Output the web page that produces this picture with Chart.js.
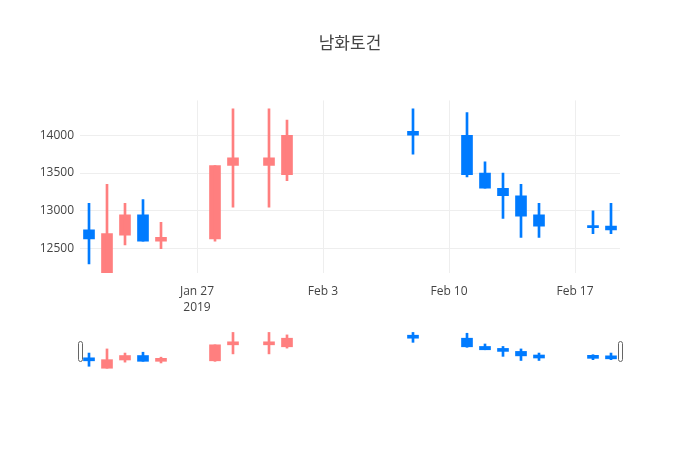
<!DOCTYPE html>
<html>
<head>
<meta charset="utf-8">
<script src="https://cdn.jsdelivr.net/npm/chart.js@4.4.0/dist/chart.umd.min.js"></script>
<style>
  body { margin: 0; background: #fff; }
  #wrap { position: relative; width: 700px; height: 450px; }
  #main { position: absolute; left: 0; top: 0; }
  #slider { position: absolute; left: 0; top: 320px; }
</style>
</head>
<body>
<div id="wrap">
  <canvas id="main" width="700" height="320"></canvas>
  <canvas id="slider" width="700" height="60"></canvas>
</div>
<script>
const dates = ['2019-01-21', '2019-01-22', '2019-01-23', '2019-01-24', '2019-01-25',
  '2019-01-28', '2019-01-29', '2019-01-31', '2019-02-01', '2019-02-08',
  '2019-02-11', '2019-02-12', '2019-02-13', '2019-02-14', '2019-02-15',
  '2019-02-18', '2019-02-19'];
const openPrices = [12750, 12180, 12680, 12950, 12600, 12630, 13600, 13600, 13480, 14050,
  14000, 13500, 13300, 13200, 12950, 12800, 12800];
const highPrices = [13100, 13350, 13100, 13150, 12850, 13600, 14350, 14350, 14200, 14350,
  14300, 13650, 13500, 13350, 13100, 13000, 13100];
const lowPrices = [12300, 12180, 12550, 12600, 12500, 12600, 13050, 13050, 13400, 13750,
  13450, 13300, 12900, 12650, 12650, 12700, 12700];
const closePrices = [12630, 12700, 12950, 12600, 12650, 13600, 13700, 13700, 14000, 14000,
  13480, 13300, 13200, 12930, 12800, 12780, 12750];

const tickDates = ['2019-01-27', '2019-02-03', '2019-02-10', '2019-02-17'];
const tickLabels = [['Jan 27', '2019'], 'Feb 3', 'Feb 10', 'Feb 17'];
const priceTicks = [12500, 13000, 13500, 14000];

const UP = '#ff7f7f';
const DOWN = '#007bff';
const FONT = "'Open Sans', 'Noto Sans CJK KR', sans-serif";

// days counted from Jan 27
const baseDay = Date.parse('2019-01-27');
function dayOf(d) { return (Date.parse(d) - baseDay) / 86400000; }

const xs = dates.map(dayOf);
const tickDays = tickDates.map(dayOf);
const colors = dates.map((d, i) => closePrices[i] >= openPrices[i] ? UP : DOWN);
const xMin = xs[0] - 0.5, xMax = xs[xs.length - 1] + 0.5;

function candleSets(minLen) {
  return [
    {
      data: xs.map((x, i) => ({ x: x, y: [lowPrices[i], highPrices[i]] })),
      backgroundColor: colors,
      barThickness: 2,
      grouped: false
    },
    {
      data: xs.map((x, i) => ({ x: x, y: [openPrices[i], closePrices[i]] })),
      backgroundColor: colors,
      barThickness: 11,
      minBarLength: minLen,
      grouped: false
    }
  ];
}

new Chart(document.getElementById('main'), {
  type: 'bar',
  data: { datasets: candleSets(2) },
  options: {
    responsive: false,
    animation: false,
    layout: { padding: 0 },
    plugins: {
      legend: { display: false },
      tooltip: { enabled: false },
      title: {
        display: true,
        text: '남화토건',
        color: '#444',
        font: { family: FONT, size: 17, weight: 'normal' },
        padding: { top: 34, bottom: 46 }
      }
    },
    scales: {
      x: {
        type: 'linear',
        min: xMin,
        max: xMax,
        offset: false,
        border: { display: false },
        grid: { color: '#eee', drawTicks: false, offset: false },
        afterBuildTicks: s => { s.ticks = tickDays.map(v => ({ value: v })); },
        afterFit: s => { s.height = 47; },
        ticks: {
          padding: 11,
          color: '#444',
          maxRotation: 0,
          font: { family: FONT, size: 12, lineHeight: 1.3 },
          callback: v => tickLabels[tickDays.indexOf(v)]
        }
      },
      y: {
        min: 12180,
        max: 14460,
        border: { display: false },
        grid: { color: '#eee', drawTicks: false },
        afterBuildTicks: s => { s.ticks = priceTicks.map(v => ({ value: v })); },
        afterFit: s => { s.width = 80; },
        ticks: {
          padding: 6,
          color: '#444',
          font: { family: FONT, size: 12 },
          callback: v => String(v)
        }
      },
      // empty right axis keeps the plot 80px from the right edge
      yRight: {
        position: 'right',
        border: { display: false },
        grid: { display: false },
        ticks: { display: false },
        afterFit: s => { s.width = 80; }
      }
    }
  }
});

const handles = {
  id: 'handles',
  afterDraw(chart) {
    const { ctx, chartArea } = chart;
    const mid = (chartArea.top + chartArea.bottom) / 2;
    ctx.save();
    ctx.fillStyle = '#fff';
    ctx.strokeStyle = '#666';
    ctx.lineWidth = 1;
    [chartArea.left, chartArea.right].forEach(x => {
      ctx.beginPath();
      ctx.roundRect(Math.round(x - 2.5) + 0.5, Math.round(mid - 10) + 0.5, 4, 20, 2);
      ctx.fill();
      ctx.stroke();
    });
    ctx.restore();
  }
};

new Chart(document.getElementById('slider'), {
  type: 'bar',
  data: { datasets: candleSets(3) },
  plugins: [handles],
  options: {
    responsive: false,
    animation: false,
    layout: { padding: { left: 80, right: 80, top: 6, bottom: 5 } },
    plugins: { legend: { display: false }, tooltip: { enabled: false } },
    scales: {
      x: { type: 'linear', min: xMin, max: xMax, offset: false, display: false },
      y: { min: 11770, max: 14740, display: false }
    }
  }
});
</script>
</body>
</html>
